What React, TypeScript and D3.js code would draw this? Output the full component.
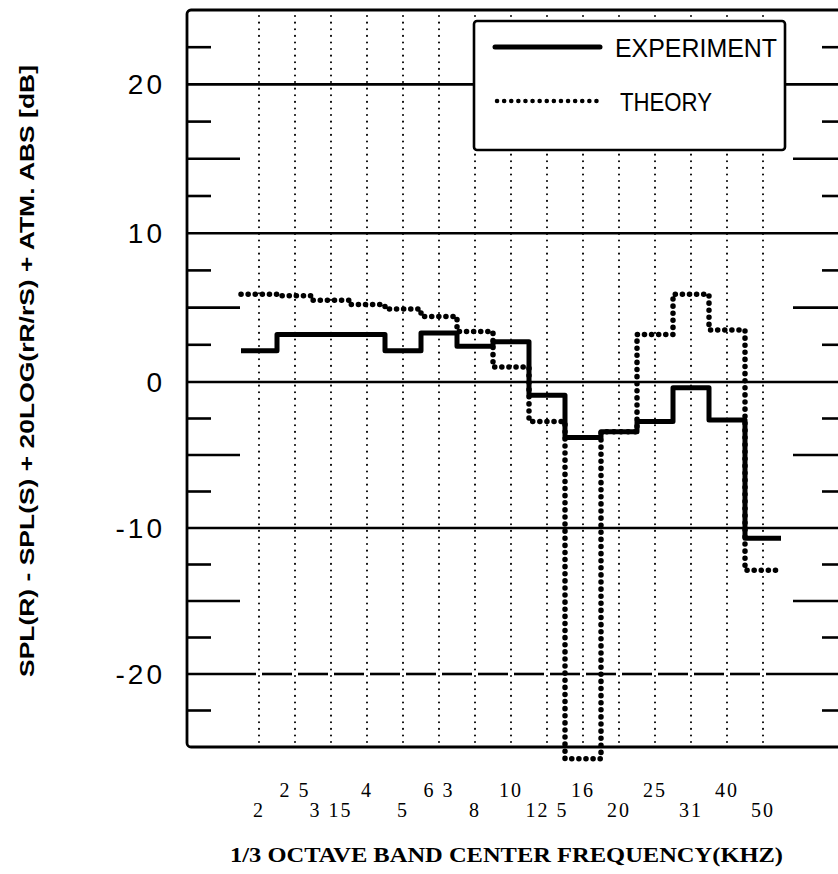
import React from 'react';
import * as d3 from 'd3';

// 1/3 octave band centres (kHz) and the labels as printed under the axis
const bands = ['2', '2.5', '3.15', '4', '5', '6.3', '8', '10', '12.5', '16', '20', '25', '31.5', '40', '50'];
const bandLabels = ['2', '2 5', '3 15', '4', '5', '6 3', '8', '10', '12 5', '16', '20', '25', '31', '40', '50'];

// dB per band
const experiment = [2.1, 3.2, 3.2, 3.2, 2.1, 3.3, 2.4, 2.7, -0.9, -3.8, -3.4, -2.7, -0.4, -2.6, -10.7];
const theory = [5.9, 5.8, 5.5, 5.2, 4.9, 4.4, 3.4, 1.0, -2.7, -25.8, -3.4, 3.2, 5.9, 3.5, -12.9];

const yMajor = [20, 10, 0, -10, -20];
const yMinor = [22.5, 17.5, 15, 12.5, 7.5, 5, 2.5, -2.5, -5, -7.5, -12.5, -15, -17.5, -22.5];
const yLabels = ['20', '10', '0', '-10', '-20'];

const W = 838;
const H = 874;
const left = 187;
const right = 846;
const top = 10;
const bottom = 747;

export default function App() {
    const x = d3.scaleBand<string>().domain(bands).range([241, 781]).padding(0);
    const y = d3.scaleLinear().domain([-25, 0, 25]).range([bottom, 382, top]);
    const bw = x.bandwidth();

    const stepPts = (vals: number[]) =>
        vals.flatMap((v, i) => {
            const x0 = x(bands[i]) as number;
            return [[x0, y(v)], [x0 + bw, y(v)]] as [number, number][];
        });
    const line = d3.line();

    const ink = '#000';
    const serif = '"Liberation Serif", "DejaVu Serif", serif';
    const sans = '"Liberation Sans", "DejaVu Sans", sans-serif';

    // -20 line is broken at every band centre in the original
    const centres = bands.map(b => (x(b) as number) + bw / 2);
    const dashStops = [left, ...centres, right];

    return (
        <svg width={W} height={H} style={{position: 'absolute', left: 0, top: 0, background: '#fff'}}>
            {/* vertical dotted lines at band centres */}
            {centres.map((cx, i) => (
                <line key={'v' + i} x1={cx} x2={cx} y1={top + 6} y2={bottom - 4}
                      stroke={ink} strokeWidth={2} strokeDasharray="0.1 6.5" strokeLinecap="round" />
            ))}

            {/* horizontal grid */}
            {yMajor.map(v => v === -20
                ? dashStops.slice(0, -1).map((s, i) => (
                    <line key={'g' + v + i} x1={s + (i === 0 ? 0 : 3)} x2={dashStops[i + 1] - 3}
                          y1={y(v)} y2={y(v)} stroke={ink} strokeWidth={2.6} />
                ))
                : <line key={'g' + v} x1={left} x2={right} y1={y(v)} y2={y(v)} stroke={ink} strokeWidth={2.6} />
            )}

            {/* minor ticks, both sides */}
            {yMinor.map(v => {
                const len = v % 5 === 0 ? 53 : 24;
                return (
                    <g key={'t' + v} stroke={ink} strokeWidth={2.6}>
                        <line x1={left} x2={left + len} y1={y(v)} y2={y(v)} />
                        <line x1={right - len} x2={right} y1={y(v)} y2={y(v)} />
                    </g>
                );
            })}

            {/* frame */}
            <rect x={left} y={top} width={right - left} height={bottom - top} rx={4}
                  fill="none" stroke={ink} strokeWidth={2.8} />

            {/* y tick labels */}
            {yMajor.map((v, i) => (
                <text key={'yl' + v} x={165} y={y(v)} dy="0.36em" textAnchor="end"
                      fontFamily={sans} fontSize={28} letterSpacing={3} fill={ink}>
                    {yLabels[i]}
                </text>
            ))}

            {/* y axis title */}
            <text transform="translate(27,371) rotate(-90)" textAnchor="middle" dy="0.35em"
                  fontFamily={sans} fontWeight="bold" fontSize={21} fill={ink}
                  textLength={612} lengthAdjust="spacingAndGlyphs">
                SPL(R) - SPL(S) + 20LOG(rR/rS) + ATM. ABS [dB]
            </text>

            {/* x labels in two staggered rows */}
            {bands.map((b, i) => (
                <text key={'xl' + b} x={centres[i]} y={i % 2 === 0 ? 817 : 797} textAnchor="middle"
                      fontFamily={serif} fontSize={20} letterSpacing={2} fill={ink}>
                    {bandLabels[i]}
                </text>
            ))}
            <text x={230} y={862} fontFamily={serif} fontWeight="bold" fontSize={20} fill={ink}
                  textLength={553} lengthAdjust="spacingAndGlyphs">
                1/3 OCTAVE BAND CENTER FREQUENCY(KHZ)
            </text>

            {/* series */}
            <path d={line(stepPts(theory)) || ''} fill="none" stroke={ink} strokeWidth={5.5}
                  strokeDasharray="0.1 7" strokeLinecap="round" strokeLinejoin="round" />
            <path d={line(stepPts(experiment)) || ''} fill="none" stroke={ink} strokeWidth={5}
                  strokeLinejoin="round" />

            {/* legend */}
            <rect x={474} y={21} width={311} height={129} rx={3} fill="#fff" stroke={ink} strokeWidth={2.6} />
            <line x1={495} x2={600} y1={47} y2={47} stroke={ink} strokeWidth={5} strokeLinecap="round" />
            <line x1={497} x2={603} y1={101} y2={101} stroke={ink} strokeWidth={4.5} strokeDasharray="0.1 7"
                  strokeLinecap="round" />
            <text x={615} y={57} fontFamily={sans} fontSize={25} fill={ink}
                  textLength={162} lengthAdjust="spacingAndGlyphs">EXPERIMENT</text>
            <text x={620} y={111} fontFamily={sans} fontSize={25} fill={ink}
                  textLength={92} lengthAdjust="spacingAndGlyphs">THEORY</text>
        </svg>
    );
}
